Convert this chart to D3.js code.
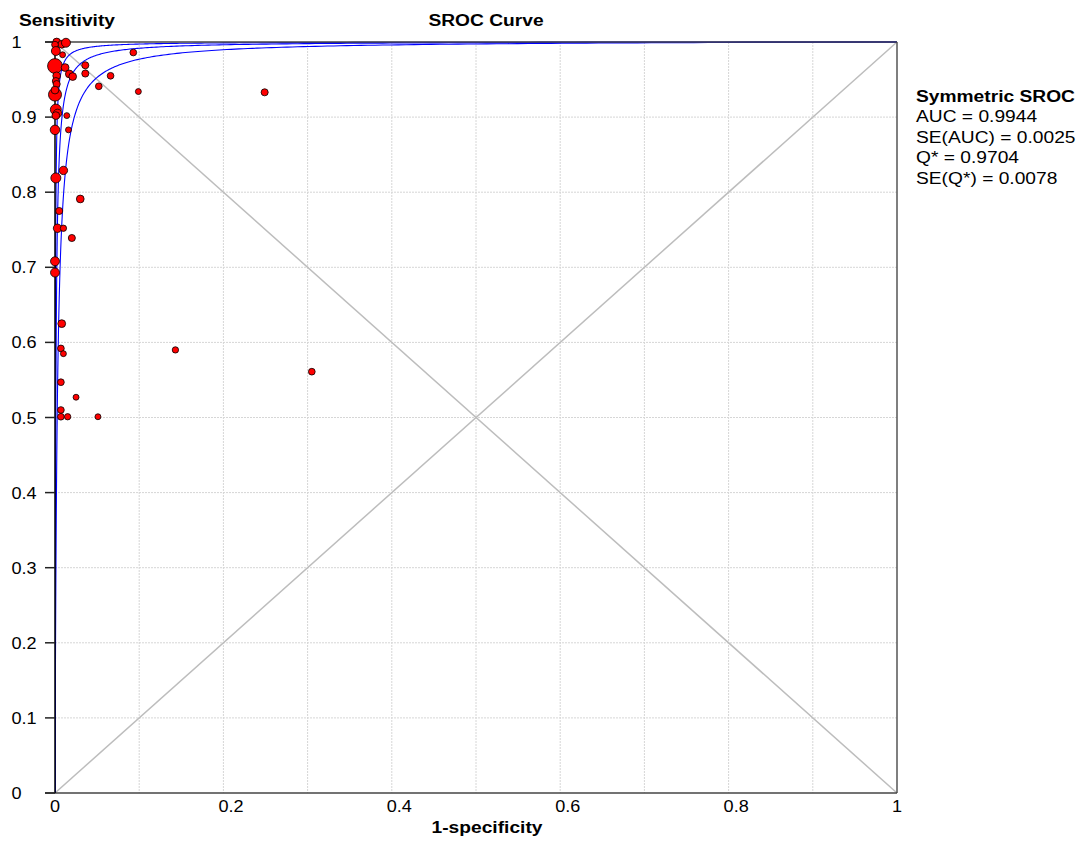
<!DOCTYPE html>
<html><head><meta charset="utf-8">
<script src="https://cdn.jsdelivr.net/npm/d3@7"></script>
<style>html,body{margin:0;padding:0;background:#fff}</style>
</head><body>
<svg id="chart" width="1084" height="842"></svg>
<script>
// ---- data ----
const fprValues = [0.002,0.008,0.013,0.000,0.001,0.009,0.000,0.012,0.017,0.021,0.002,0.001,0.002,0.000,0.000,0.001,0.003,0.001,0.014,0.000,0.016,0.010,0.001,0.030,0.005,0.003,0.010,0.020,0.000,0.000,0.008,0.007,0.010,0.007,0.025,0.007,0.007,0.015,0.051,0.036,0.036,0.052,0.066,0.093,0.099,0.249,0.143,0.305];
const sensValues = [1.000,0.997,0.999,0.9965,0.988,0.983,0.968,0.966,0.9575,0.954,0.955,0.948,0.944,0.930,0.936,0.910,0.905,0.902,0.902,0.883,0.883,0.829,0.819,0.791,0.775,0.752,0.752,0.739,0.708,0.693,0.625,0.592,0.585,0.547,0.527,0.510,0.501,0.501,0.501,0.969,0.958,0.941,0.955,0.986,0.934,0.933,0.590,0.561];
const studyWeights = [12,12,16,9,16,7,44,12,12,12,12,10,10,34,12,24,14,12,7,18,7,14,20,12,10,14,8,10,16,16,12,9,7,9,7,9,9,8,7,10,10,9,9,9,7,10,8,9];
// SROC model intercepts (logit scale): upper bound, symmetric SROC, lower bound
const srocIntercepts = [8.1, 6.98, 5.95];
const xTickValues = [0,0.2,0.4,0.6,0.8,1];
const xTickLabels = ["0","0.2","0.4","0.6","0.8","1"];
const yTickValues = [0,0.1,0.2,0.3,0.4,0.5,0.6,0.7,0.8,0.9,1];
const yTickLabels = ["0","0.1","0.2","0.3","0.4","0.5","0.6","0.7","0.8","0.9","1"];
const gridValues = [0.1,0.2,0.3,0.4,0.5,0.6,0.7,0.8,0.9];
const legendTitle = "Symmetric SROC";
const legendLines = ["AUC = 0.9944","SE(AUC) = 0.0025","Q* = 0.9704","SE(Q*) = 0.0078"];

// ---- layout ----
const L = 55, R = 897, T = 42, B = 793;
const SX = 1.13;
const svg = d3.select("#chart");
const x = d3.scaleLinear().domain([0,1]).range([L,R]);
const y = d3.scaleLinear().domain([0,1]).range([B,T]);
const r = d3.scaleSqrt().domain([0,50]).range([0,1.12*Math.sqrt(50)]);
const font = "'Liberation Sans', Arial, sans-serif";

function txt(g, s, px, py, opts={}) {
  return g.append("text").attr("transform", `translate(${px},${py}) scale(${SX},1)`)
    .attr("font-family", font).attr("font-size", opts.size||16)
    .attr("font-weight", opts.bold?"bold":"normal")
    .attr("text-anchor", opts.anchor||"start").attr("fill","#000").text(s);
}

// grid
const grid = svg.append("g");
grid.selectAll(".gx").data(gridValues).join("line")
  .attr("x1", d=>x(d)).attr("x2", d=>x(d)).attr("y1", T).attr("y2", B)
  .attr("stroke","#d6d6d6").attr("stroke-width",1).attr("stroke-dasharray","2,1");
grid.selectAll(".gy").data(gridValues).join("line")
  .attr("y1", d=>y(d)).attr("y2", d=>y(d)).attr("x1", L).attr("x2", R)
  .attr("stroke","#d6d6d6").attr("stroke-width",1).attr("stroke-dasharray","2,1");

// diagonals
svg.append("line").attr("x1",x(0)).attr("y1",y(0)).attr("x2",x(1)).attr("y2",y(1))
  .attr("stroke","#bdbdbd").attr("stroke-width",1.5);
svg.append("line").attr("x1",x(0)).attr("y1",y(1)).attr("x2",x(1)).attr("y2",y(0))
  .attr("stroke","#bdbdbd").attr("stroke-width",1.5);

// SROC curves
svg.append("clipPath").attr("id","clip").append("rect").attr("x",L).attr("y",T-1).attr("width",R-L).attr("height",B-T+1);
const sampleFpr = [0].concat(d3.range(-6, 0.0001, 0.01).map(e=>Math.pow(10,e)));
const line = d3.line().x(d=>x(d[0])).y(d=>y(d[1]));
srocIntercepts.forEach(a=>{
  const pts = sampleFpr.map(f=>{
    if (f<=0) return [0,0];
    if (f>=1) return [1,1];
    const lg = a + Math.log(f/(1-f));
    return [f, 1/(1+Math.exp(-lg))];
  });
  svg.append("path").attr("d", line(pts)).attr("fill","none")
    .attr("stroke","#0000ff").attr("stroke-width",1.1).attr("clip-path","url(#clip)");
});

// frame
svg.append("line").attr("x1",R).attr("x2",R).attr("y1",T).attr("y2",B).attr("stroke","#555").attr("stroke-width",1.5);
svg.append("line").attr("x1",L-10).attr("x2",R).attr("y1",B).attr("y2",B).attr("stroke","#444").attr("stroke-width",1.5);
svg.append("line").attr("x1",L-10).attr("x2",R).attr("y1",T).attr("y2",T).attr("stroke","#444").attr("stroke-width",1.5);
svg.append("line").attr("x1",L).attr("x2",L).attr("y1",T).attr("y2",B).attr("stroke","#000").attr("stroke-width",1.5);

// y ticks
const yt = svg.append("g");
yt.selectAll("line").data(yTickValues).join("line")
  .attr("x1",L-10).attr("x2",L).attr("y1",d=>y(d)).attr("y2",d=>y(d))
  .attr("stroke","#222").attr("stroke-width",1.5);
yTickValues.forEach((v,i)=>{ txt(yt, yTickLabels[i], 11.5, y(v)+6); });

// x tick labels
const xt = svg.append("g");
xTickValues.forEach((v,i)=>{ txt(xt, xTickLabels[i], x(v)-5, 812); });

// titles
txt(svg, "Sensitivity", 19, 26, {bold:true, size:17});
txt(svg, "SROC Curve", 486, 26, {bold:true, size:17, anchor:"middle"});
txt(svg, "1-specificity", 487, 833, {bold:true, size:17, anchor:"middle"});

// legend
txt(svg, legendTitle, 916, 101.5, {bold:true, size:17});
legendLines.forEach((s,i)=>{ txt(svg, s, 916, 122 + i*20.5, {size:17}); });

// points
const pts = fprValues.map((f,i)=>({f, s:sensValues[i], w:studyWeights[i]}));
svg.append("g").selectAll("circle").data(pts).join("circle")
  .attr("cx", d=>x(d.f)).attr("cy", d=>y(d.s)).attr("r", d=>r(d.w))
  .attr("fill","#ff0000").attr("stroke","#000").attr("stroke-width",0.8);
</script>
</body></html>
